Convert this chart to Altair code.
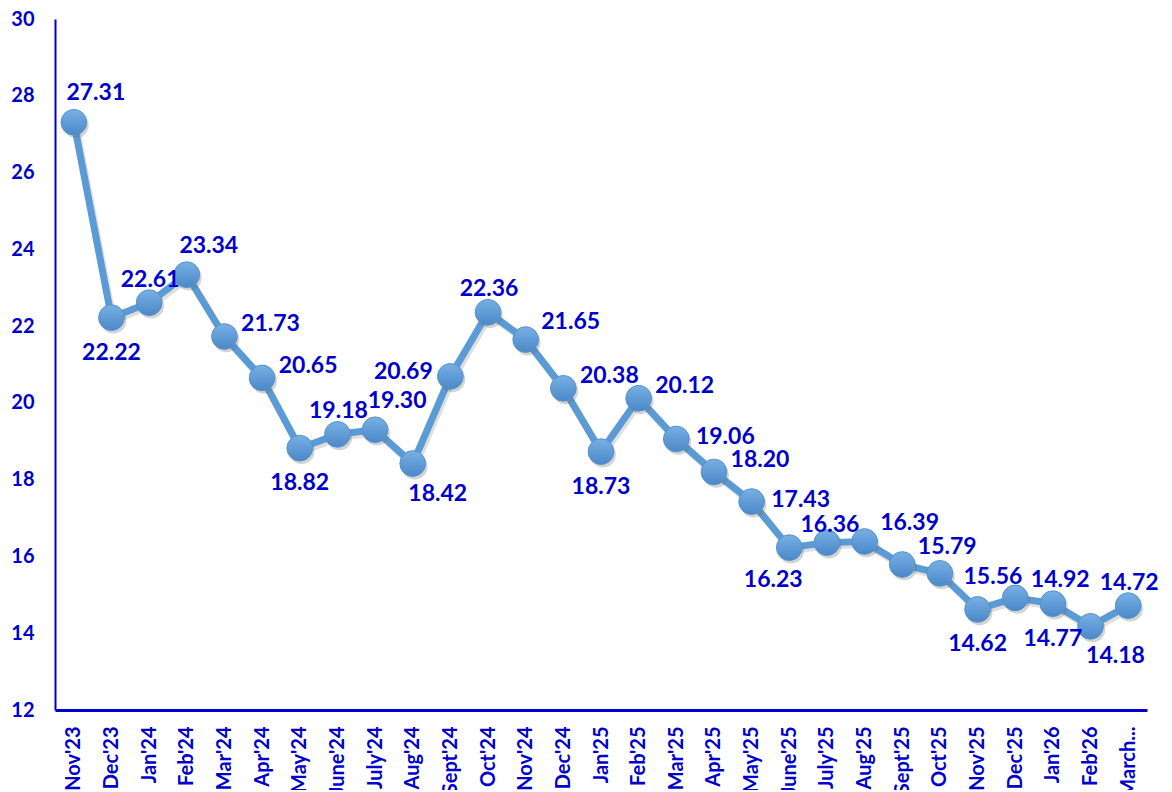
import altair as alt
import pandas as pd

months = ["Nov'23", "Dec'23", "Jan'24", "Feb'24", "Mar'24", "Apr'24", "May'24",
          "June'24", "July'24", "Aug'24", "Sept'24", "Oct'24", "Nov'24", "Dec'24",
          "Jan'25", "Feb'25", "Mar'25", "Apr'25", "May'25", "June'25", "July'25",
          "Aug'25", "Sept'25", "Oct'25", "Nov'25", "Dec'25", "Jan'26", "Feb'26",
          "March..."]
values = [27.31, 22.22, 22.61, 23.34, 21.73, 20.65, 18.82, 19.18, 19.30, 18.42,
          20.69, 22.36, 21.65, 20.38, 18.73, 20.12, 19.06, 18.20, 17.43, 16.23,
          16.36, 16.39, 15.79, 15.56, 14.62, 14.92, 14.77, 14.18, 14.72]
y_ticks = [12, 14, 16, 18, 20, 22, 24, 26, 28, 30]
# which side of its point each data label sits on
label_side = ["tr", "b", "t", "tr", "r", "r", "b", "t", "tr", "br",
              "l", "t", "ru", "r", "b", "r", "rd", "r", "rd", "bl",
              "tn", "ru", "ru", "rdd", "b", "ru", "b", "br", "t"]

df = pd.DataFrame({"month": months, "value": values, "side": label_side})

BLUE = "#0000CC"
LINE = "#5B9BD5"
FONT = "Lato"

# offsets (dx, dy) in pixels for each side name
SIDE_OFFSETS = {
    "tr": (22, -29), "t": (1, -23), "tn": (3, -18), "r": (46, -12),
    "ru": (45, -18), "rd": (49, -2), "rdd": (53, 4), "b": (0, 35),
    "br": (25, 30), "bl": (-16, 32), "l": (-47, -4),
}

x_enc = alt.X("month:N", sort=months,
              scale=alt.Scale(type="point", padding=0.5),
              axis=alt.Axis(title=None, labelAngle=-90, labelFont=FONT,
                            labelFontWeight="bold", labelFontSize=20,
                            labelColor=BLUE, ticks=False, domainColor=BLUE,
                            domainWidth=3, labelPadding=16, grid=False,
                            labelLimit=200))
y_enc = alt.Y("value:Q",
              scale=alt.Scale(domain=[12, 30], nice=False, zero=False),
              axis=alt.Axis(title=None, values=y_ticks, labelFont=FONT,
                            labelFontWeight="bold", labelFontSize=20,
                            labelColor=BLUE, ticks=False, domainColor=BLUE,
                            domainWidth=2, labelPadding=21, grid=False))

base = alt.Chart(df).encode(x=x_enc, y=y_enc)

shadow_line = base.mark_line(color="#7a7a7a", strokeWidth=7, opacity=0.25,
                             xOffset=2, yOffset=3)
line = base.mark_line(color=LINE, strokeWidth=7)
shadow_pts = base.mark_circle(size=660, color="#6d6d6d", opacity=0.3,
                              xOffset=2, yOffset=3)
pts = base.mark_point(
    size=660, filled=True, opacity=1, strokeWidth=1, stroke="#5592CC",
    fill=alt.LinearGradient(
        gradient="linear", x1=0, y1=0, x2=0, y2=1,
        stops=[alt.GradientStop(offset=0, color="#78B0E4"),
               alt.GradientStop(offset=1, color="#4A88C8")]),
)

layers = [shadow_line, line, shadow_pts, pts]
for side, (dx, dy) in SIDE_OFFSETS.items():
    layers.append(
        base.transform_filter(alt.datum.side == side).mark_text(
            align="center", baseline="middle", dx=dx, dy=dy, font=FONT,
            fontWeight="bold", fontSize=23, color=BLUE,
        ).encode(text=alt.Text("value:Q", format=".2f"))
    )

chart = alt.layer(*layers).properties(
    width=1092, height=691,
    autosize=alt.AutoSizeParams(type="none"),
    padding={"left": 47, "top": 11, "right": 17, "bottom": 80},
    background="white",
).configure_view(stroke=None)

chart.save("out.html", embed_options={"renderer": "svg", "actions": False})
